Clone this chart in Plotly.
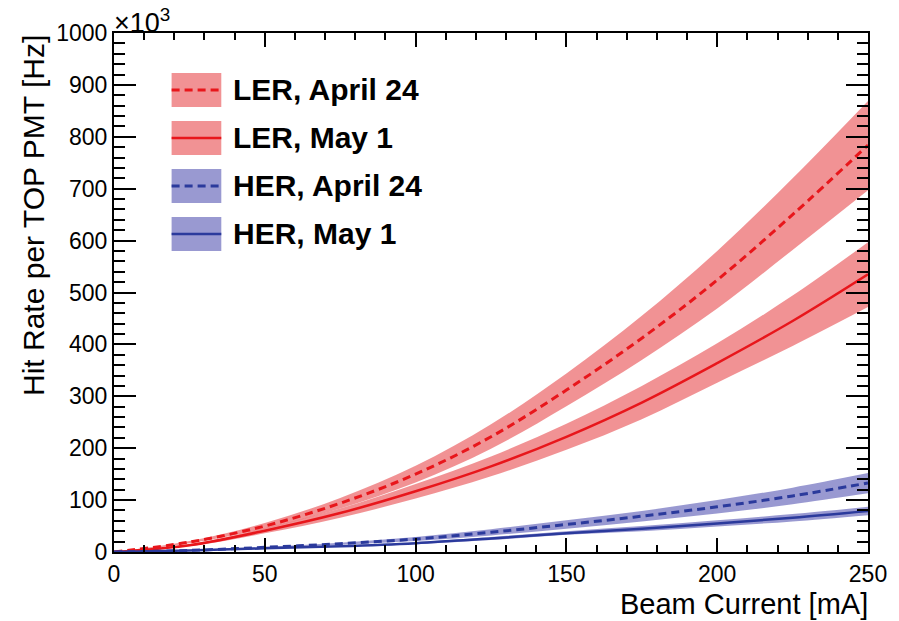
import plotly.graph_objects as go

# Beam current [mA]
current = [0, 25, 50, 75, 100, 125, 150, 175, 200, 225, 250]

# Hit rate per TOP PMT [x10^3 Hz]
ler_apr = [0, 19, 50, 94, 150, 222, 312, 412, 524, 650, 784]
ler_apr_hi = [0, 21, 56, 104, 166, 246, 344, 455, 580, 720, 869]
ler_apr_lo = [0, 17, 45, 84, 134, 199, 281, 370, 469, 582, 697]

ler_may = [0, 13, 41, 75, 117, 165, 222, 288, 364, 445, 535]
ler_may_hi = [0, 15, 46, 84, 131, 184, 247, 320, 402, 494, 597]
ler_may_lo = [0, 11, 36, 66, 103, 146, 197, 256, 326, 397, 472]

her_apr = [0, 3, 9, 16, 25, 38, 53, 69, 87, 108, 133]
her_apr_hi = [0, 4, 10, 18, 29, 44, 61, 79, 100, 124, 152]
her_apr_lo = [0, 3, 8, 14, 21, 32, 45, 59, 74, 92, 113]

her_may = [0, 3, 7, 11, 17, 26, 36, 45, 55, 66, 79]
her_may_hi = [0, 3, 8, 12, 19, 29, 40, 50, 61, 73, 87]
her_may_lo = [0, 3, 6, 10, 15, 23, 33, 40, 49, 59, 71]

labels = ["LER, April 24", "LER, May 1", "HER, April 24", "HER, May 1"]

FONT = "Liberation Sans, Arial, Helvetica, sans-serif"
RED_LINE = "#e8161b"
RED_BAND = "rgba(236,110,112,0.75)"
BLUE_LINE = "#2b3a9c"
BLUE_BAND = "rgba(110,110,190,0.7)"

series = [
    (ler_apr, ler_apr_hi, ler_apr_lo, RED_LINE, RED_BAND, "dash"),
    (ler_may, ler_may_hi, ler_may_lo, RED_LINE, RED_BAND, "solid"),
    (her_apr, her_apr_hi, her_apr_lo, BLUE_LINE, BLUE_BAND, "dash"),
    (her_may, her_may_hi, her_may_lo, BLUE_LINE, BLUE_BAND, "solid"),
]

fig = go.Figure()
for (mid, hi, lo, lc, bc, dash), name in zip(series, labels):
    fig.add_trace(go.Scatter(x=current, y=lo, mode="lines", line=dict(width=0, shape="spline"),
                             showlegend=False, hoverinfo="skip"))
    fig.add_trace(go.Scatter(x=current, y=hi, mode="lines", line=dict(width=0, shape="spline"),
                             fill="tonexty", fillcolor=bc, showlegend=False, hoverinfo="skip"))
for (mid, hi, lo, lc, bc, dash), name in zip(series, labels):
    fig.add_trace(go.Scatter(x=current, y=mid, mode="lines", name=name,
                             line=dict(color=lc, width=2.5 if dash == "solid" else 3,
                                       dash="8px,5px" if dash == "dash" else "solid", shape="spline"),
                             showlegend=False))

# Manual legend (boxes + lines + text)
x0, x1 = 0.0764, 0.1423
ytop = 0.923
step = 0.0925
boxh = 0.0655
for i, ((mid, hi, lo, lc, bc, dash), name) in enumerate(zip(series, labels)):
    yt = ytop - i * step
    yb = yt - boxh
    fig.add_shape(type="rect", xref="paper", yref="paper", x0=x0, x1=x1, y0=yb, y1=yt,
                  fillcolor=bc, line=dict(width=0), layer="above")
    fig.add_shape(type="line", xref="paper", yref="paper", x0=x0, x1=x1,
                  y0=(yt + yb) / 2, y1=(yt + yb) / 2,
                  line=dict(color=lc, width=3 if dash == "dash" else 2.5,
                            dash="8px,5px" if dash == "dash" else "solid"), layer="above")
    fig.add_annotation(xref="paper", yref="paper", x=x1, xshift=10, y=(yt + yb) / 2,
                       text="<b>" + name + "</b>", showarrow=False, xanchor="left", yanchor="middle",
                       font=dict(family=FONT, size=30, color="black"))

fig.add_annotation(xref="paper", yref="paper", x=0, xshift=-2, y=1.0, text="×10<sup>3</sup>",
                   showarrow=False, xanchor="left", yanchor="bottom", yshift=-7,
                   font=dict(family=FONT, size=27, color="black"))

axis_font = dict(family=FONT, size=23, color="black")
fig.update_layout(
    width=899, height=621,
    margin=dict(l=114, r=26, t=33, b=69),
    paper_bgcolor="white", plot_bgcolor="white",
    showlegend=False,
    xaxis=dict(range=[0, 250], tick0=0, dtick=50, ticks="inside", ticklen=14, tickwidth=1.5,
               tickcolor="black", showline=True, linecolor="black", linewidth=2, mirror="allticks",
               showgrid=False, zeroline=False, tickfont=axis_font,
               minor=dict(ticks="inside", ticklen=7, dtick=10, tickcolor="black", tickwidth=1.5, showgrid=False)),
    yaxis=dict(range=[0, 1000], tick0=0, dtick=100, ticks="inside", ticklen=22, tickwidth=1.5,
               tickcolor="black", showline=True, linecolor="black", linewidth=2, mirror="allticks",
               showgrid=False, zeroline=False, tickfont=axis_font,
               minor=dict(ticks="inside", ticklen=11, dtick=20, tickcolor="black", tickwidth=1.5, showgrid=False)),
)

# Axis titles placed like ROOT (right/top aligned)
fig.add_annotation(xref="paper", yref="paper", x=1.0, xshift=2, y=0, yshift=-34, text="Beam Current [mA]",
                   showarrow=False, xanchor="right", yanchor="top",
                   font=dict(family=FONT, size=29, color="black"))
fig.add_annotation(xref="paper", yref="paper", x=0, xshift=-62, y=1.0, text="Hit Rate per TOP PMT [Hz]",
                   showarrow=False, textangle=-90, xanchor="right", yanchor="top",
                   font=dict(family=FONT, size=30, color="black"))

fig.write_html("out.html")
